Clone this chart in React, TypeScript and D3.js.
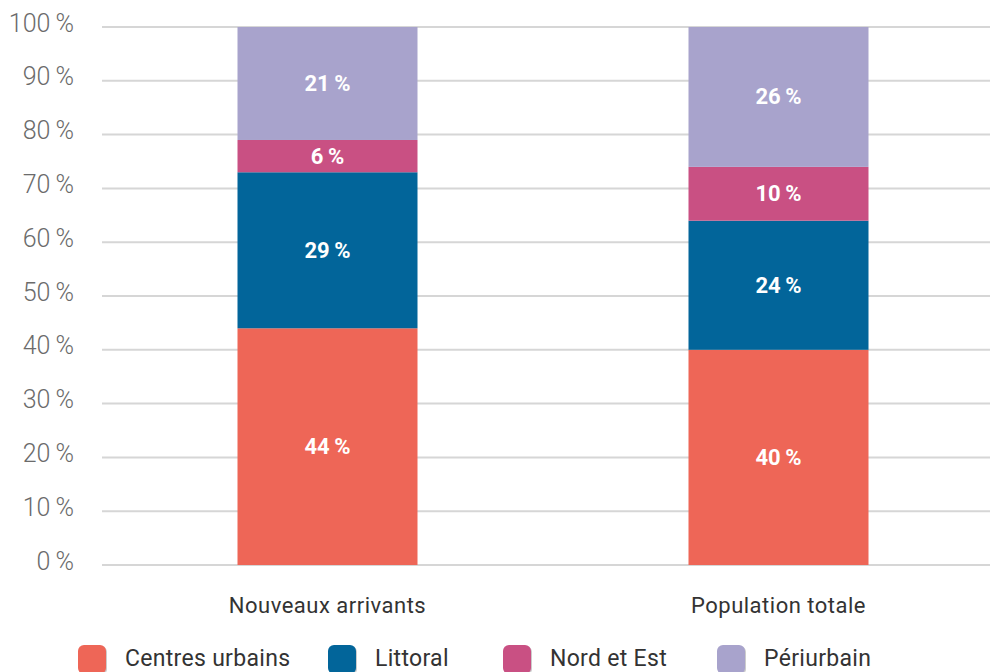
import React from "react";
import * as d3 from "d3";

// données
const categories = ["Nouveaux arrivants", "Population totale"];
const seriesNames = ["Centres urbains", "Littoral", "Nord et Est", "Périurbain"];
const centresUrbains = [44, 40];
const littoral = [29, 24];
const nordEtEst = [6, 10];
const periurbain = [21, 26];
const yTicks = [0, 10, 20, 30, 40, 50, 60, 70, 80, 90, 100];

const colors = ["#EE6657", "#02659A", "#C95083", "#A8A3CC"];

const W = 990;
const H = 672;
const font = "Roboto, 'DejaVu Sans', sans-serif";

export default function App() {
  const y = d3.scaleLinear().domain([0, 100]).range([565, 27]);
  const x = d3.scalePoint<string>().domain(categories).range([102, 1004]).padding(0.5);
  const barW = 180;

  const rows = categories.map((c, i) => ({
    cat: c,
    "Centres urbains": centresUrbains[i],
    Littoral: littoral[i],
    "Nord et Est": nordEtEst[i],
    Périurbain: periurbain[i],
  }));
  const stacked = d3.stack<any>().keys(seriesNames)(rows);

  // legend layout
  const legendX = [78, 328, 503, 717];

  return (
    <svg
      width={W}
      height={H}
      style={{ position: "absolute", left: 0, top: 0, background: "#fff" }}
    >
      {yTicks.map((t) => (
        <g key={t}>
          <line x1={102} x2={W} y1={y(t)} y2={y(t)} stroke="#d6d6d6" strokeWidth={2} />
          <text
            x={74}
            y={y(t) - 2}
            textAnchor="end"
            dominantBaseline="middle"
            fontFamily={font}
            fontWeight={300}
            fontSize={25}
            fill="#6b6b6b"
          >
            {t}{"\u2009"}%
          </text>
        </g>
      ))}
      {stacked.map((s, si) =>
        s.map((d, i) => (
          <g key={si + "-" + i}>
            <rect
              x={(x(categories[i]) as number) - barW / 2}
              y={y(d[1])}
              width={barW}
              height={y(d[0]) - y(d[1])}
              fill={colors[si]}
            />
            <text
              x={x(categories[i]) as number}
              y={(y(d[0]) + y(d[1])) / 2}
              textAnchor="middle"
              dominantBaseline="central"
              fontFamily={font}
              fontWeight={700}
              fontSize={22}
              fill="#fff"
            >
              {d[1] - d[0]}{"\u2009"}%
            </text>
          </g>
        ))
      )}
      {categories.map((c) => (
        <text
          key={c}
          x={x(c) as number}
          y={613}
          textAnchor="middle"
          fontFamily={font}
          fontSize={22}
          letterSpacing={0.5}
          fill="#333"
        >
          {c}
        </text>
      ))}
      {seriesNames.map((n, i) => (
        <g key={n} transform={`translate(${legendX[i]},645)`}>
          <rect x={1} y={1} width={28} height={29} rx={6} fill="#ccc" />
          <rect x={0} y={0} width={28} height={29} rx={6} fill={colors[i]} />
          <text x={47} y={21} fontFamily={font} fontSize={23} letterSpacing={0.3} fill="#333">
            {n}
          </text>
        </g>
      ))}
    </svg>
  );
}
